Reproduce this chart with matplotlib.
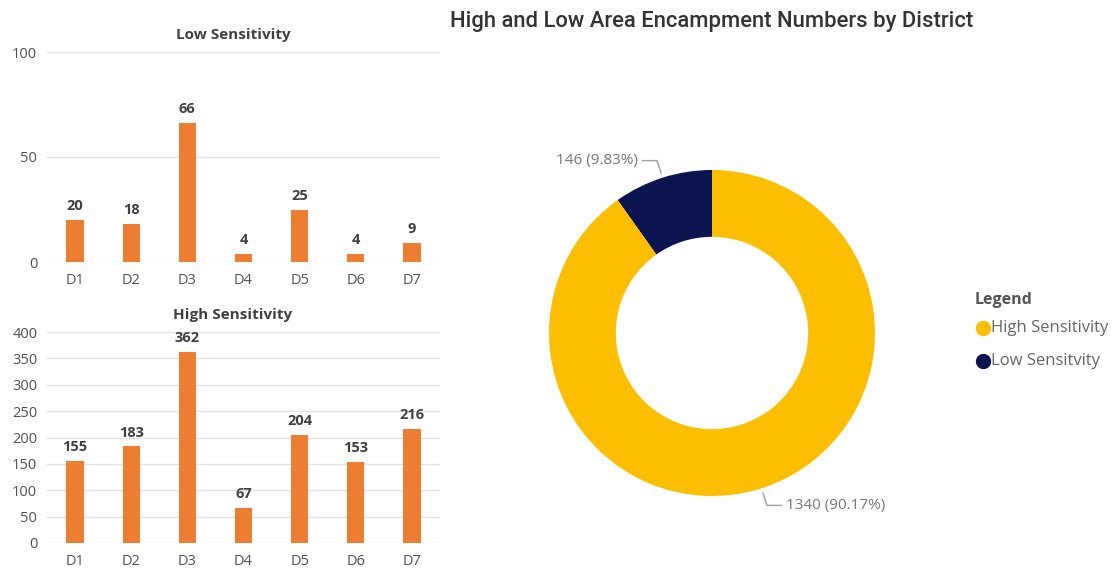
import numpy as np
import matplotlib
matplotlib.use("Agg")
import matplotlib.pyplot as plt
from matplotlib.lines import Line2D

districts = ["D1", "D2", "D3", "D4", "D5", "D6", "D7"]
low_values = [20, 18, 66, 4, 25, 4, 9]
high_values = [155, 183, 362, 67, 204, 153, 216]
donut_labels = ["High Sensitivity", "Low Sensitvity"]
donut_values = [1340, 146]
donut_pct = [90.17, 9.83]

W, H = 1113, 569
fig = plt.figure(figsize=(W / 100, H / 100), dpi=100)
fig.patch.set_facecolor("white")

BAR = "#ED7D31"
YEL = "#FBBE00"
NAVY = "#0C1450"
GRID = "#E3E3E3"
TICK = "#505050"
LAB = "#404040"
FONT = "Open Sans"


def px_axes(x0, y0, x1, y1):
    return fig.add_axes([x0 / W, 1 - y1 / H, (x1 - x0) / W, (y1 - y0) / H])


def bar_panel(ax, values, title, ymax, step, title_y):
    x = np.arange(len(districts))
    ax.bar(x, values, width=0.31, color=BAR, zorder=3)
    ax.set_xlim(-0.5, len(districts) - 0.5)
    ax.set_ylim(0, ymax)
    ax.set_yticks(np.arange(0, ymax + 1, step))
    ax.set_xticks(x)
    ax.set_xticklabels(districts)
    ax.grid(axis="y", color=GRID, linewidth=1, zorder=0)
    for s in ax.spines.values():
        s.set_visible(False)
    ax.tick_params(length=0, colors=TICK, labelsize=10.5)
    ax.tick_params(axis="y", pad=7)
    ax.tick_params(axis="x", pad=8)
    for lbl in ax.get_xticklabels() + ax.get_yticklabels():
        lbl.set_fontfamily(FONT)
        lbl.set_color(TICK)
        lbl.set_fontweight("medium")
    for xi, v in zip(x, values):
        ax.annotate(str(v), (xi, v), xytext=(0, 5), textcoords="offset points",
                    ha="center", va="bottom", fontsize=10.5, fontweight="bold",
                    color=LAB, family=FONT)
    fig.text(233 / W, 1 - title_y / H, title, fontsize=11, fontweight="bold",
             color=LAB, family=FONT, ha="center", va="center")


ax1 = px_axes(47, 52, 440, 262)
bar_panel(ax1, low_values, "Low Sensitivity", 100, 50, 35)
ax2 = px_axes(47, 332, 440, 543)
bar_panel(ax2, high_values, "High Sensitivity", 400, 50, 315)

# Donut
cx, cy, R = 712, 333, 163
half = 175
axd = px_axes(cx - half, cy - half, cx + half, cy + half)
order = [1, 0]  # low first, counterclockwise from top
vals = [donut_values[i] for i in order]
cols = [[YEL, NAVY][i] for i in order]
wedges, _ = axd.pie(vals, colors=cols, startangle=90, counterclock=True,
                    radius=1.0, wedgeprops=dict(width=0.41, linewidth=0))
lim = half / R
axd.set_xlim(-lim, lim)
axd.set_ylim(-lim, lim)
axd.set_aspect("equal")
axd.axis("off")
for w, i in zip(wedges, order):
    ang = np.deg2rad((w.theta1 + w.theta2) / 2)
    u = np.array([np.cos(ang), np.sin(ang)])
    p0 = u * 1.03
    p1 = u * 1.11
    sgn = 1 if u[0] >= 0 else -1
    p2 = p1 + np.array([sgn * 0.09, 0])
    axd.plot([p0[0], p1[0], p2[0]], [p0[1], p1[1], p2[1]], color="#A0A0A0",
             linewidth=1, clip_on=False)
    axd.text(p2[0] + sgn * 0.025, p2[1], f"{donut_values[i]} ({donut_pct[i]:.2f}%)",
             ha="left" if sgn > 0 else "right", va="center", fontsize=11,
             color="#777777", family=FONT)

fig.text(450 / W, 1 - 21 / H, "High and Low Area Encampment Numbers by District",
         fontsize=15.8, color="#333333", family="Roboto", fontweight="medium",
         va="center", ha="left")

# Legend
fig.text(975 / W, 1 - 300 / H, "Legend", fontsize=11.5, fontweight="bold",
         color="#555555", family=FONT, va="center", ha="left")
for k, (lab, col) in enumerate(zip(donut_labels, [YEL, NAVY])):
    yy = 1 - (328 + 33 * k) / H
    fig.add_artist(Line2D([983 / W], [yy], marker="o", markersize=10,
                          color=col, transform=fig.transFigure))
    fig.text(991 / W, yy, lab, fontsize=12, color="#666666", family=FONT,
             va="center", ha="left")

fig.savefig("out.png", dpi=100, facecolor="white")
